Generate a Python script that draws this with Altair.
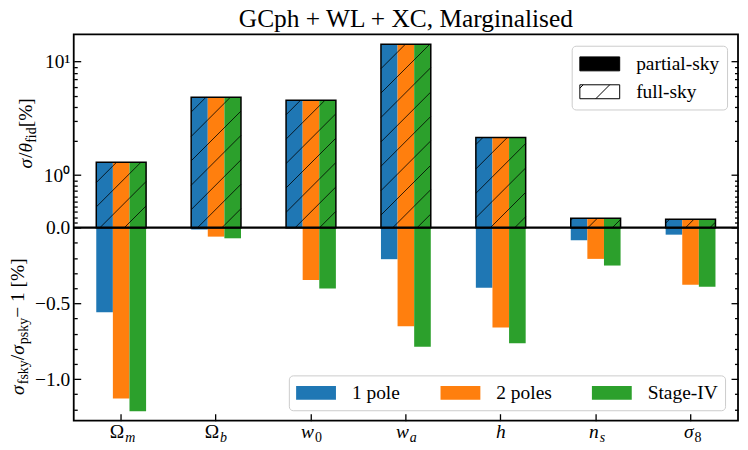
import math
import altair as alt
import pandas as pd

# ---------------- data ----------------
params = ["Om", "Ob", "w0", "wa", "h", "ns", "s8"]
label_main = ["Ω", "Ω", "w", "w", "h", "n", "σ"]
label_sub = ["m", "b", "0", "a", "", "s", "8"]
models = ["1 pole", "2 poles", "Stage-IV"]
model_colors = ["#1f77b4", "#ff7f0e", "#2ca02c"]

# sigma / theta_fid [%]  (partial-sky)
sigma_1pole = [1.31, 4.87, 4.58, 14.3, 2.16, 0.179, 0.160]
sigma_2poles = [1.31, 4.87, 4.58, 14.3, 2.16, 0.179, 0.160]
sigma_stage4 = [1.31, 4.87, 4.58, 14.3, 2.16, 0.179, 0.160]

# sigma_fsky / sigma_psky - 1 [%]
rel_1pole = [-0.559, -0.012, -0.003, -0.208, -0.397, -0.083, -0.046]
rel_2poles = [-1.129, -0.059, -0.346, -0.651, -0.660, -0.206, -0.377]
rel_stage4 = [-1.213, -0.070, -0.401, -0.787, -0.763, -0.250, -0.390]

sky = ["partial-sky", "full-sky"]

top_major = [0, 1, 10]
top_minor = [0.1, 0.2, 0.3, 0.4, 0.5, 0.6, 0.7, 0.8, 0.9, 2, 3, 4, 5, 6, 7, 8, 9]
bot_major = [-0.5, -1.0]
bot_minor = [-0.1, -0.2, -0.3, -0.4, -0.6, -0.7, -0.8, -0.9, -1.1, -1.2]

TITLE = "GCph + WL + XC, Marginalised"

# ---------------- geometry / style ----------------
SERIF = "Liberation Serif"
W, H = 667, 388
Y0 = 194.2            # zero line, px from top of plot
UNIT = 152.0          # px per unit of the lower panel
K = 0.75              # decade size of upper panel in lower-panel units
LIN = 0.4623          # linear part (0..1) of the upper panel, in decades
YMAX = Y0 / UNIT
YMIN = -(H - Y0) / UNIT
FS = 19.5
FS_SUB = 14
HALF = 0.2625         # half group width in x units


def t_top(v):
    return K * LIN * v if v <= 1 else K * (LIN + math.log10(v))


def expr_top(f):
    return f"datum.{f} <= 1 ? {K * LIN}*datum.{f} : {K}*({LIN} + log(datum.{f})/LN10)"


sigmas = [sigma_1pole, sigma_2poles, sigma_stage4]
rels = [rel_1pole, rel_2poles, rel_stage4]
rows = []
for name, sig, rel in zip(models, sigmas, rels):
    for j, p in enumerate(params):
        rows.append({"p": p, "model": name, "v": sig[j], "rel": rel[j]})
df = pd.DataFrame(rows)

# hatch pattern lines (45 deg, fixed screen spacing) inside the full-sky boxes
SP = 24.5
sx = W / 7.0
hatch = []
for j, p in enumerate(params):
    fs = max(sigmas[m][j] * (1 + rels[m][j] / 100) for m in range(3))
    yt = t_top(fs)
    xl, xr = (j - HALF + 0.5) * sx, (j + HALF + 0.5) * sx
    ytp, ybp = (YMAX - yt) * UNIT, (YMAX - 0) * UNIT
    for k in range(int((xl + ytp) // SP) - 1, int((xr + ybp) // SP) + 2):
        c = k * SP
        lo, hi = max(xl, c - ybp), min(xr, c - ytp)
        if hi - lo > 0.6:
            hatch.append({"hx": lo / sx - 0.5, "hy": YMAX - (c - lo) / UNIT,
                          "hx2": hi / sx - 0.5, "hy2": YMAX - (c - hi) / UNIT})
hatch_df = pd.DataFrame(hatch)

major_t = [t_top(v) for v in top_major] + bot_major
minor_t = [t_top(v) for v in top_minor] + bot_minor

labels_df = pd.DataFrame({"p": params, "main": label_main, "sub": label_sub})
sky_df = pd.DataFrame({"sky": sky})
one = pd.DataFrame({"a": [0]})

# ---------------- scales / axes ----------------
xband = alt.Scale(domain=params, paddingInner=0.475, paddingOuter=0.2375)
xq = alt.Scale(domain=[-0.5, 6.5], nice=False, zero=False)
yscale = alt.Scale(domain=[YMIN, YMAX], nice=False, zero=False)
xoff = alt.Scale(domain=models, paddingInner=0, paddingOuter=0)

lab_expr = ("datum.value > 0.7 ? '10¹' : datum.value > 0.2 ? '10⁰' : "
            "format(datum.value, '.1f')")
ax_labels = alt.Axis(orient="left", values=major_t, labelExpr=lab_expr, ticks=False,
                     tickSize=0, labelPadding=4, title=None, labelFont=SERIF)
ax_lmaj = alt.Axis(orient="right", offset=-W, values=major_t, tickSize=7, labels=False, title=None)
ax_lmin = alt.Axis(orient="right", offset=-W, values=minor_t, tickSize=3.5, labels=False, title=None)
ax_rmaj = alt.Axis(orient="left", offset=-W, values=major_t, tickSize=7, labels=False, title=None)
ax_rmin = alt.Axis(orient="left", offset=-W, values=minor_t, tickSize=3.5, labels=False, title=None)
ax_xbot = alt.Axis(orient="top", offset=-H, tickSize=7, labels=False, title=None)
ax_xzero = alt.Axis(orient="top", offset=-Y0, tickSize=7, labels=False, title=None)

# legend swatches: 40 x 14 px rectangles (symbol box of 20 px, path drawn to the right)
SWATCH = "M-1,-0.7H3V0.7H-1Z"
model_legend = alt.Legend(
    orient="none", legendX=216, legendY=342.5, direction="horizontal", title=None,
    symbolType=SWATCH, symbolSize=400, symbolStrokeWidth=0,
    labelFont=SERIF, labelFontSize=FS, labelColor="black", labelOffset=36,
    columnPadding=40, padding=7.3, strokeColor="#cccccc",
    fillColor="rgba(255,255,255,0.8)", cornerRadius=4)

sky_paths = [SWATCH,
             SWATCH + " M0.6,0.7L2,-0.7 M-1,-0.36L-0.66,-0.7"]
sky_legend = alt.Legend(
    orient="none", legendX=500, legendY=11.5, direction="vertical", title=None,
    symbolSize=400, symbolStrokeColor="black", symbolStrokeWidth=1, symbolOpacity=1,
    labelFont=SERIF, labelFontSize=FS, labelColor="black", labelOffset=36,
    rowPadding=8, padding=7.7, strokeColor="#cccccc",
    fillColor="rgba(255,255,255,0.8)", cornerRadius=4)

color = alt.Color("model:N", scale=alt.Scale(domain=models, range=model_colors), legend=model_legend)

# ---------------- layers ----------------
top_bars = alt.Chart(df).transform_calculate(yt=expr_top("v")).mark_bar().encode(
    x=alt.X("p:N", scale=xband, axis=ax_xbot),
    xOffset=alt.XOffset("model:N", scale=xoff),
    y=alt.Y("yt:Q", scale=yscale, axis=ax_labels),
    color=color,
)

bot_bars = alt.Chart(df).mark_bar().encode(
    x=alt.X("p:N", scale=xband, axis=ax_xzero),
    xOffset=alt.XOffset("model:N", scale=xoff),
    y=alt.Y("rel:Q", scale=yscale, axis=ax_lmaj),
    color=color,
)

hatch_layer = alt.Chart(hatch_df).mark_rule(color="black", strokeWidth=0.8).encode(
    x=alt.X("hx:Q", scale=xq, axis=None),
    x2="hx2:Q",
    y=alt.Y("hy:Q", scale=yscale, axis=ax_rmaj),
    y2="hy2:Q",
)

outline = (
    alt.Chart(df)
    .transform_calculate(fs="datum.v*(1+datum.rel/100)")
    .transform_aggregate(fs="max(fs)", groupby=["p"])
    .transform_calculate(yt=expr_top("fs"))
    .mark_bar(fillOpacity=0, stroke="black", strokeWidth=1.5)
    .encode(
        x=alt.X("p:N", scale=xband, axis=None),
        y=alt.Y("yt:Q", scale=yscale, axis=ax_lmin),
    )
)

zero = alt.Chart(one).mark_rule(color="black", strokeWidth=2.2).encode(
    y=alt.YDatum(0, type="quantitative", scale=yscale, axis=ax_rmin)
)


def xlab(filt, text_field, align, dx, y, size, style):
    return alt.Chart(labels_df).transform_filter(filt).mark_text(
        align=align, dx=dx, baseline="alphabetic", font=SERIF, fontSize=size,
        fontStyle=style, color="black",
    ).encode(x=alt.X("p:N", scale=xband, axis=None), y=alt.value(y), text=f"{text_field}:N")


lab_layers = [
    xlab("datum.main == 'Ω'", "main", "right", 3, H + 17, FS, "normal"),
    xlab("datum.main != 'Ω' && datum.sub != ''", "main", "right", 3, H + 17, FS, "italic"),
    xlab("datum.sub == ''", "main", "center", 0, H + 17, FS, "italic"),
    xlab("indexof(['m','b','a','s'], datum.sub) >= 0", "sub", "left", 4, H + 21, FS_SUB, "italic"),
    xlab("indexof(['0','8'], datum.sub) >= 0", "sub", "left", 4, H + 21, FS_SUB, "normal"),
]

EM = {"σ": 0.55, "θ": 0.5, "/": 0.278, "f": 0.333, "i": 0.278, "d": 0.5, "s": 0.389,
      "k": 0.5, "y": 0.5, "p": 0.5, " ": 0.25, "[": 0.333, "]": 0.333, "%": 0.833,
      "−": 0.564, "1": 0.5}


def rot_title(pieces, cy, bx):
    total = sum(sum(EM.get(ch, 0.5) for ch in t) * s for t, s, it, sub in pieces)
    y = cy + total / 2
    out = []
    for t, s, it, sub in pieces:
        out.append(alt.Chart(one).mark_text(
            text=t, angle=270, align="left", baseline="alphabetic", font=SERIF,
            fontSize=s, fontStyle="italic" if it else "normal", color="black",
        ).encode(x=alt.value(bx + (4 if sub else 0)), y=alt.value(y)))
        y -= sum(EM.get(ch, 0.5) for ch in t) * s
    return out


title_top = rot_title([("σ", FS, True, False), ("/", FS, False, False), ("θ", FS, True, False),
                       ("fid", FS_SUB, False, True), (" [%]", FS, False, False)], Y0 / 2, -42)
title_bot = rot_title([("σ", FS, True, False), ("fsky", FS_SUB, False, True),
                       ("/", FS, False, False), ("σ", FS, True, False),
                       ("psky", FS_SUB, False, True), (" − 1 [%]", FS, False, False)],
                      Y0 + (H - Y0) / 2, -50)

main_title = alt.Chart(one).mark_text(
    text=TITLE, align="center", baseline="alphabetic", font=SERIF, fontSize=25.5, color="black"
).encode(x=alt.value(W / 2), y=alt.value(-7))

dummy = alt.Chart(sky_df).mark_point(filled=True, stroke="black", strokeWidth=1).encode(
    x=alt.value(-600), y=alt.value(100),
    shape=alt.Shape("sky:N", scale=alt.Scale(domain=sky, range=sky_paths), legend=sky_legend),
    fill=alt.Fill("sky:N", scale=alt.Scale(domain=sky, range=["black", "white"]), legend=sky_legend),
    stroke=alt.Stroke("sky:N", scale=alt.Scale(domain=sky, range=["black", "black"]), legend=sky_legend),
)

chart = (
    alt.layer(top_bars, bot_bars, hatch_layer, outline, zero, *lab_layers,
              *title_top, *title_bot, main_title, dummy)
    .properties(
        width=W, height=H,
        padding={"left": 66, "top": 25.5, "right": 2, "bottom": 24},
        autosize=alt.AutoSizeParams(type="none"),
    )
    .resolve_scale(x="independent")
    .resolve_axis(x="independent", y="independent")
    .configure(font=SERIF)
    .configure_view(stroke="black", strokeWidth=1.8)
    .configure_axis(grid=False, domain=False, labelFont=SERIF, labelFontSize=FS,
                    labelColor="black", tickColor="black", tickWidth=1.3)
    .configure_legend(labelFont=SERIF)
)

chart.save("out.html", embed_options={"renderer": "svg", "actions": False})
